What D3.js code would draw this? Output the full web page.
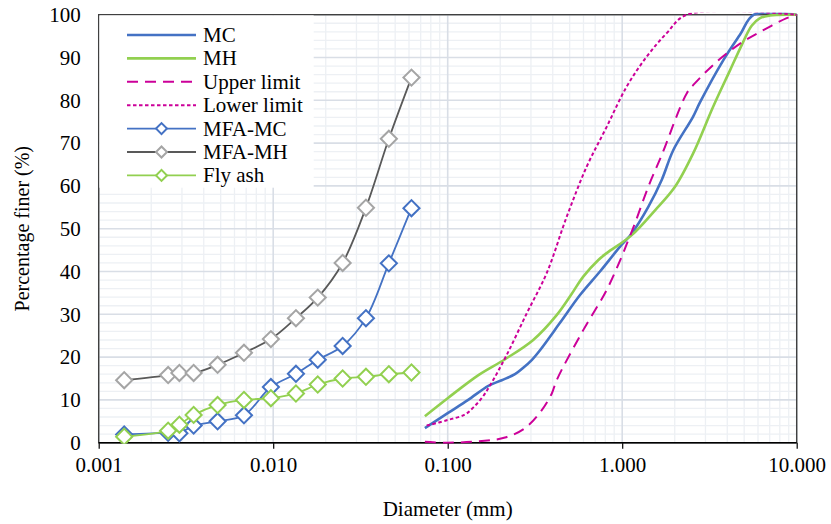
<!DOCTYPE html>
<html>
<head>
<meta charset="utf-8">
<script src="https://cdn.jsdelivr.net/npm/d3@7"></script>
<style>
  html, body { margin: 0; padding: 0; background: #fff; }
  svg { display: block; }
</style>
</head>
<body>
<svg id="chart" width="831" height="524"></svg>
<script>
// ---- data (diameter in mm, percentage finer in %) ----
const xTicks = [0.001, 0.01, 0.1, 1, 10];
const yTicks = [0, 10, 20, 30, 40, 50, 60, 70, 80, 90, 100];

const mcD = [0.074, 0.100, 0.131, 0.171, 0.204, 0.243, 0.271, 0.303, 0.338, 0.44, 0.573, 0.746, 0.972, 1.134, 1.411, 1.684, 1.964, 2.55, 2.79, 3.80, 4.73, 5.69, 10];
const mcP = [3.4, 6.9, 10.0, 13.3, 14.6, 16.0, 17.5, 19.3, 21.6, 28.0, 34.5, 40.0, 45.8, 48.9, 55.1, 61.4, 68.4, 76.2, 79.5, 89.4, 95.3, 100, 100];

const mhD = [0.074, 0.100, 0.150, 0.213, 0.309, 0.421, 0.514, 0.598, 0.730, 0.815, 1.134, 1.542, 2.007, 2.55, 3.32, 4.147, 4.84, 5.52, 6.16, 7.03, 9.15, 10];
const mhP = [6.2, 10.4, 15.8, 19.5, 24.0, 29.8, 34.8, 38.8, 42.7, 44.3, 48.5, 54.3, 59.8, 67.6, 78.5, 87.0, 92.9, 97.4, 99.2, 99.8, 100, 100];

const upperD = [0.074, 0.100, 0.157, 0.213, 0.277, 0.346, 0.395, 0.421, 0.598, 0.815, 0.994, 1.061, 1.184, 1.411, 1.684, 2.342, 2.614, 3.479, 4.84, 6.44, 8.76, 10];
const upperP = [0.2, 0, 0.4, 1.2, 3.4, 7.6, 11.5, 14.6, 26.3, 35.7, 43.5, 46.4, 51.3, 59.8, 67.2, 81.6, 84.0, 89.0, 93.5, 96.4, 99.2, 100];

const lowerD = [0.0758, 0.100, 0.1257, 0.140, 0.1566, 0.175, 0.2178, 0.2836, 0.369, 0.481, 0.626, 0.815, 1.061, 1.382, 1.80, 2.342, 10];
const lowerP = [4.0, 5.3, 6.6, 8.2, 10.4, 13.4, 20.5, 30.2, 39.6, 52.8, 64.5, 73.8, 83.2, 90.2, 95.7, 100, 100];

const mfaD = [0.0014, 0.0025, 0.0029, 0.0035, 0.0048, 0.0068, 0.0097, 0.0135, 0.018, 0.025, 0.034, 0.046, 0.062];
const mfaMC = [1.9, 2.3, 2.2, 4.0, 5.0, 6.4, 13.0, 16.1, 19.4, 22.6, 29.1, 41.9, 54.8];
const mfaMH = [14.6, 15.8, 16.3, 16.3, 18.2, 21.0, 24.2, 29.1, 33.9, 42.0, 54.9, 71.0, 85.3];
const flyAsh = [1.4, 2.8, 4.2, 6.5, 8.8, 10.0, 10.4, 11.5, 13.6, 15.0, 15.4, 16.0, 16.4];

// ---- layout ----
const FONT = "'Liberation Serif', 'Times New Roman', serif";
const L = 98.7, R = 796.7, T = 14.7, B = 442.7;
const svg = d3.select("#chart");
const x = d3.scaleLog().domain([0.001, 10]).range([L, R]);
const y = d3.scaleLinear().domain([0, 100]).range([B, T]);

const BLUE = "#4472C4", GREEN = "#92D050", MAG = "#CC0099", DGRAY = "#595959", LGRAY = "#A5A5A5";

// gridlines
const grid = svg.append("g");
const minorX = [];
for (let e = -3; e < 1; e++) for (let k = 2; k <= 9; k++) minorX.push(k * Math.pow(10, e));
const minorY = d3.range(0, 101, 2).filter(v => v % 10 !== 0);
grid.selectAll(".mx").data(minorX).join("line")
  .attr("x1", d => x(d)).attr("x2", d => x(d)).attr("y1", T).attr("y2", B)
  .attr("stroke", "#EDF0F4").attr("stroke-width", 1.3);
grid.selectAll(".my").data(minorY).join("line")
  .attr("x1", L).attr("x2", R).attr("y1", d => y(d)).attr("y2", d => y(d))
  .attr("stroke", "#EDF0F4").attr("stroke-width", 1.3);
grid.selectAll(".Mx").data(xTicks).join("line")
  .attr("x1", d => x(d)).attr("x2", d => x(d)).attr("y1", T).attr("y2", B)
  .attr("stroke", "#D9DEE6").attr("stroke-width", 1.6);
grid.selectAll(".My").data(yTicks).join("line")
  .attr("x1", L).attr("x2", R).attr("y1", d => y(d)).attr("y2", d => y(d))
  .attr("stroke", "#D9DEE6").attr("stroke-width", 1.6);

// axes
const xAxis = svg.append("g").attr("transform", `translate(0,${B})`)
  .call(d3.axisBottom(x).tickValues(xTicks).tickFormat(d3.format(".3f")).tickSize(6).tickPadding(8));
xAxis.attr("font-family", FONT).attr("font-size", 21);
xAxis.select(".domain").remove();
xAxis.selectAll(".tick line").attr("stroke", "#000").attr("stroke-width", 1.2);
xAxis.selectAll("text").attr("fill", "#000");

const yAxis = svg.append("g").attr("transform", `translate(${L},0)`)
  .call(d3.axisLeft(y).tickValues(yTicks).tickSize(0).tickPadding(18));
yAxis.attr("font-family", FONT).attr("font-size", 21);
yAxis.select(".domain").remove();
yAxis.selectAll("text").attr("fill", "#000");

// frame
svg.append("rect").attr("x", L).attr("y", T).attr("width", R - L).attr("height", B - T)
  .attr("fill", "none").attr("stroke", "#404040").attr("stroke-width", 1.4);
svg.append("line").attr("x1", L).attr("x2", R).attr("y1", B).attr("y2", B)
  .attr("stroke", "#000").attr("stroke-width", 1.4);

// titles
svg.append("text").attr("x", (L + R) / 2).attr("y", 516).attr("text-anchor", "middle")
  .attr("font-family", FONT).attr("font-size", 21).attr("fill", "#000").text("Diameter (mm)");
svg.append("text").attr("transform", `translate(29,${(T + B) / 2}) rotate(-90)`).attr("text-anchor", "middle")
  .attr("font-family", FONT).attr("font-size", 20).attr("fill", "#000").text("Percentage finer (%)");

// clip
svg.append("clipPath").attr("id", "clip").append("rect")
  .attr("x", L).attr("y", T - 2).attr("width", R - L).attr("height", B - T + 3);

const plot = svg.append("g").attr("clip-path", "url(#clip)");
const line = d3.line().x(d => x(d[0])).y(d => y(d[1])).curve(d3.curveCatmullRom.alpha(0.5));
const zip = (a, b) => a.map((v, i) => [v, b[i]]);

const curves = [
  { d: zip(mcD, mcP), color: BLUE, w: 2.6, dash: null },
  { d: zip(mhD, mhP), color: GREEN, w: 2.6, dash: null },
  { d: zip(upperD, upperP), color: MAG, w: 2, dash: "11,7" },
  { d: zip(lowerD, lowerP), color: MAG, w: 2, dash: "3.5,2.5" }
];
curves.forEach(c => {
  plot.append("path").attr("d", line(c.d)).attr("fill", "none")
    .attr("stroke", c.color).attr("stroke-width", c.w)
    .attr("stroke-dasharray", c.dash);
});

const diamond = d3.symbol().type(d3.symbolSquare).size(130);
const markerSeries = [
  { vals: mfaMC, line: BLUE, mark: BLUE },
  { vals: mfaMH, line: DGRAY, mark: LGRAY },
  { vals: flyAsh, line: GREEN, mark: GREEN }
];
markerSeries.forEach(s => {
  const pts = zip(mfaD, s.vals);
  const g = plot.append("g");
  g.append("path").attr("d", line(pts)).attr("fill", "none")
    .attr("stroke", s.line).attr("stroke-width", 1.8);
  g.selectAll("path.m").data(pts).join("path").attr("class", "m")
    .attr("d", diamond)
    .attr("transform", d => `translate(${x(d[0])},${y(d[1])}) rotate(45)`)
    .attr("fill", "#fff").attr("stroke", s.mark).attr("stroke-width", 2);
});

// legend
const legendItems = [
  { name: "MC", color: BLUE, w: 2.6, dash: null, marker: null },
  { name: "MH", color: GREEN, w: 2.6, dash: null, marker: null },
  { name: "Upper limit", color: MAG, w: 2, dash: "11,7", marker: null },
  { name: "Lower limit", color: MAG, w: 2, dash: "3.5,2.5", marker: null },
  { name: "MFA-MC", color: BLUE, w: 1.8, dash: null, marker: BLUE },
  { name: "MFA-MH", color: DGRAY, w: 1.8, dash: null, marker: LGRAY },
  { name: "Fly ash", color: GREEN, w: 1.8, dash: null, marker: GREEN }
];
const lg = svg.append("g");
lg.append("rect").attr("x", L + 0.7).attr("y", T + 0.7).attr("width", 313 - L).attr("height", 187 - T).attr("fill", "#fff");
legendItems.forEach((it, i) => {
  const cy = 35 + i * 23.4;
  lg.append("line").attr("x1", 127).attr("x2", 196).attr("y1", cy).attr("y2", cy)
    .attr("stroke", it.color).attr("stroke-width", it.w).attr("stroke-dasharray", it.dash);
  if (it.marker) {
    lg.append("path").attr("d", d3.symbol().type(d3.symbolSquare).size(60))
      .attr("transform", `translate(161.5,${cy}) rotate(45)`)
      .attr("fill", "#fff").attr("stroke", it.marker).attr("stroke-width", 2);
  }
  lg.append("text").attr("x", 203).attr("y", cy + 7)
    .attr("font-family", FONT).attr("font-size", 21).attr("fill", "#000").text(it.name);
});
</script>
</body>
</html>
